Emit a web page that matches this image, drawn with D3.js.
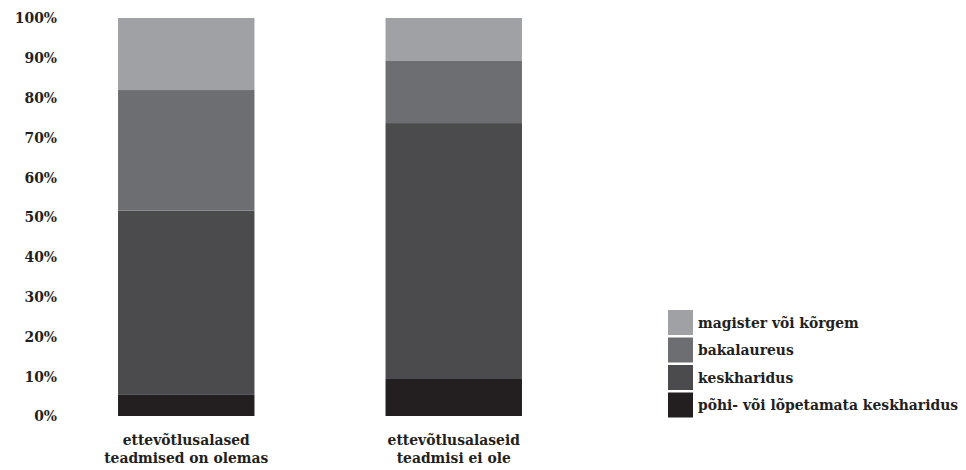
<!DOCTYPE html>
<html><head><meta charset="utf-8">
<script src="https://cdn.jsdelivr.net/npm/d3@7"></script>
<style>body{margin:0;background:#fff}svg{display:block}text{font-family:"DejaVu Serif",serif;font-weight:bold;fill:#231f20}</style>
</head><body>
<script>
const categories = [["ettevõtlusalased","teadmised on olemas"],["ettevõtlusalaseid","teadmisi ei ole"]];
const seriesNames = ["põhi- või lõpetamata keskharidus","keskharidus","bakalaureus","magister või kõrgem"];
const seriesColors = ["#231f20","#4b4b4d","#6d6e71","#a0a1a4"];
const pohi = [5.3, 9.3];
const kesk = [46.3, 64.3];
const bak = [30.3, 15.6];
const mag = [18.1, 10.8];
const tickValues = [0,10,20,30,40,50,60,70,80,90,100];

const W=966,H=470,FS="13.9px";
const svg=d3.select("body").append("svg").attr("width",W).attr("height",H);
const keys=["pohi","kesk","bak","mag"];
const data=categories.map((c,i)=>({cat:i,pohi:pohi[i],kesk:kesk[i],bak:bak[i],mag:mag[i]}));
const stack=d3.stack().keys(keys)(data);
const x=d3.scaleBand().domain(d3.range(categories.length)).range([52.5,587.5]).paddingInner(0.49).paddingOuter(0.245);
const y=d3.scaleLinear().domain([0,100]).range([416,18]);

svg.append("g").selectAll("g").data(stack).join("g").attr("fill",(d,i)=>seriesColors[i])
 .selectAll("rect").data(d=>d).join("rect")
 .attr("x",d=>x(d.data.cat)).attr("width",x.bandwidth())
 .attr("y",d=>y(d[1])).attr("height",d=>y(d[0])-y(d[1]));

const yAxis=d3.axisLeft(y).tickValues(tickValues).tickFormat(d=>d+"%").tickSize(0).tickPadding(0);
const ga=svg.append("g").attr("transform","translate(57,0)").call(yAxis);
ga.select(".domain").remove();
ga.selectAll("text").style("font-size",FS).style("font-family",null).attr("fill","#231f20").attr("dy","0.35em");

const xl=svg.append("g");
categories.forEach((c,i)=>{
  const cx=x(i)+x.bandwidth()/2;
  const t=xl.append("text").attr("x",cx).attr("y",445).attr("text-anchor","middle").style("font-size",FS);
  c.forEach((line,j)=>t.append("tspan").attr("x",cx).attr("dy",j?18:0).text(line));
});

const lg=svg.append("g").attr("transform","translate(668,310)");
const order=[3,2,1,0];
order.forEach((s,k)=>{
  const g=lg.append("g").attr("transform",`translate(0,${k*27.5})`);
  g.append("rect").attr("width",25).attr("height",25).attr("fill",seriesColors[s]);
  g.append("text").attr("x",30).attr("y",13).attr("dy","0.35em").style("font-size",FS).text(seriesNames[s]);
});
</script>
</body></html>
